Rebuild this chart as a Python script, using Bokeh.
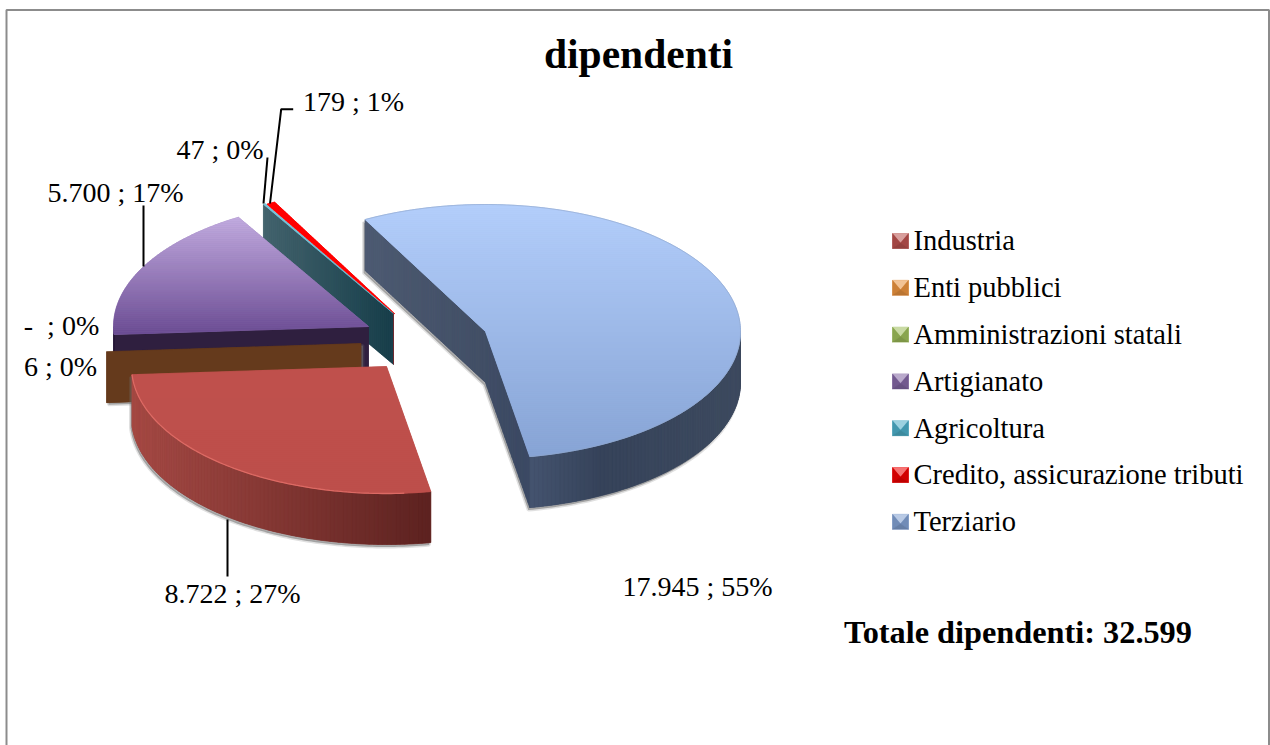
import numpy as np
from bokeh.plotting import figure
from bokeh.models import Range1d, ColumnDataSource
from bokeh.core.properties import value
from bokeh.embed import file_html
from bokeh.resources import INLINE

# ---------- data ----------
categories = ["Industria", "Enti pubblici", "Amministrazioni statali", "Artigianato",
              "Agricoltura", "Credito, assicurazione tributi", "Terziario"]
values = [8722, 6, 0, 5700, 47, 179, 17945]
data_labels = ["8.722 ; 27%", "6 ; 0%", "-\u00a0\u00a0; 0%", "5.700 ; 17%", "47 ; 0%", "179 ; 1%", "17.945 ; 55%"]
title_text = "dipendenti"
total_text = "Totale dipendenti: 32.599"

# ---------- layout (page pixels) ----------
W, H = 1270, 745
RX, RY, DEPTH = 255.0, 127.0, 51.0
FIRST = 170.0
apex = {"Industria": (386, 366), "Enti pubblici": (360.5, 343), "Artigianato": (368, 326),
        "Agricoltura": (393, 313), "Credito, assicurazione tributi": (394.5, 313.5), "Terziario": (485, 331)}
label_pos = [(232, 601), (60, 374), (61, 333), (115, 200), (219.5, 157), (353, 109), (697, 594)]
legend_x, legend_y0, legend_dy = 913, 249, 46.8
legend_cols = ["#b8504d", "#e8923f", "#9cbb59", "#8165a3", "#4bacc6", "#ee0000", "#809fd0"]
SERIF = "Liberation Serif"
FS = 28
LIFT = 0.3  # upward correction of the text baseline, in font sizes

p = figure(width=W, height=H, x_range=Range1d(0, W), y_range=Range1d(H, 0),
           toolbar_location=None, output_backend="svg", x_axis_type=None, y_axis_type=None,
           min_border=0, outline_line_color=None, background_fill_color="white",
           border_fill_color="white")
p.grid.visible = False

total = sum(values)
spans = {}
a = FIRST
for c, v in zip(categories, values):
    d = v / total * 360.0
    spans[c] = (a, a + d)
    a += d


def hex2rgb(h):
    return np.array([int(h[i:i + 2], 16) for i in (1, 3, 5)], float)


def lerp(c1, c2, t):
    t = min(max(t, 0.0), 1.0)
    m = hex2rgb(c1) * (1 - t) + hex2rgb(c2) * t
    return "#%02x%02x%02x" % tuple(int(round(k)) for k in m)


def pt(c, b):
    r = np.radians(b)
    return apex[c][0] + RX * np.sin(r), apex[c][1] - RY * np.cos(r)


def arc(c, b0=None, b1=None):
    s0, s1 = spans[c]
    b0 = s0 if b0 is None else b0
    b1 = s1 if b1 is None else b1
    n = max(2, int(abs(b1 - b0) / 1.0) + 2)
    bs = np.linspace(b0, b1, n)
    return [pt(c, b) for b in bs]


def clip_y(poly, ylo, yhi):
    def clip(pts, inside, ycut):
        out = []
        for i in range(len(pts)):
            p0, p1 = pts[i], pts[(i + 1) % len(pts)]
            i0, i1 = inside(p0), inside(p1)
            if i0:
                out.append(p0)
            if i0 != i1:
                t = (ycut - p0[1]) / (p1[1] - p0[1])
                out.append((p0[0] + t * (p1[0] - p0[0]), ycut))
        return out
    r = clip(poly, lambda q: q[1] >= ylo, ylo)
    if r:
        r = clip(r, lambda q: q[1] <= yhi, yhi)
    return r


pxs, pys, pcs = [], [], []


def add(poly, col):
    if len(poly) >= 3:
        pxs.append([q[0] for q in poly])
        pys.append([q[1] for q in poly])
        pcs.append(col)


def flush(lw=0.5):
    global pxs, pys, pcs
    if pxs:
        p.patches(source=ColumnDataSource(dict(xs=pxs, ys=pys, c=pcs)), xs="xs", ys="ys",
                  fill_color="c", line_color="c", line_width=lw)
    pxs, pys, pcs = [], [], []


def top_gradient(c, top, bottom):
    poly = [apex[c]] + arc(c)
    add(poly, lerp(top, bottom, 0.5))
    ys = [q[1] for q in poly]
    y0, y1 = min(ys), max(ys)
    y = y0
    while y < y1:
        band = clip_y(poly, y, min(y + 2, y1))
        add(band, lerp(top, bottom, (y - y0) / (y1 - y0)))
        y += 2


def down(q):
    return (q[0], q[1] + DEPTH)


def face(q0, q1, col0, col1=None, steps=1):
    col1 = col1 or col0
    add([q0, q1, down(q1), down(q0)], lerp(col0, col1, 0.5))
    for i in range(steps):
        t0, t1 = i / steps, (i + 1) / steps
        a0 = (q0[0] + (q1[0] - q0[0]) * t0, q0[1] + (q1[1] - q0[1]) * t0)
        a1 = (q0[0] + (q1[0] - q0[0]) * t1, q0[1] + (q1[1] - q0[1]) * t1)
        add([a0, a1, down(a1), down(a0)], lerp(col0, col1, t0))


def rim(c, b0, b1, colfun):
    pts = arc(c, b0, b1)
    add(pts + [down(q) for q in pts[::-1]], colfun((pts[0][0] + pts[-1][0]) / 2))
    for q0, q1 in zip(pts[:-1], pts[1:]):
        add([q0, q1, down(q1), down(q0)], colfun((q0[0] + q1[0]) / 2))


def shadow(outline, dx=-1.5, dy=2.5):
    xs = [q[0] + dx for q in outline]
    ys = [q[1] + dy for q in outline]
    p.patch(xs, ys, fill_color="#707070", fill_alpha=0.55, line_color="#707070", line_alpha=0.22, line_width=3)


# ---------- Terziario ----------
c = "Terziario"
s0, s1 = spans[c]
tip = pt(c, s1)
start = pt(c, s0)
RIGHT = s1 - 80  # bearing of the rightmost point of the ellipse (90 degrees, one turn on)
shadow([start, down(start), down(apex[c]), down(tip)] + [down(q) for q in arc(c, s1, RIGHT)] + [apex[c]])
face(start, apex[c], "#4e5b72", "#424f66", steps=60)
face(apex[c], tip, "#414e66", "#3c4a64", steps=25)
rim(c, RIGHT, s1, lambda x: lerp("#44546f", "#36435a", (x - tip[0]) / 70) if x < tip[0] + 70 else lerp("#36435a", "#3e4b60", (x - tip[0] - 70) / 140))
top_gradient(c, "#b3cefb", "#86a3d4")
flush()
p.line([q[0] for q in arc(c)], [q[1] for q in arc(c)], line_color="#8fa6c9", line_width=1, line_alpha=0.55)

# ---------- Agricoltura + Credito ----------
c = "Agricoltura"
q = pt(c, spans[c][0])
face(q, apex[c], "#45656f", "#173e4a", steps=65)
top_gradient(c, "#78c4da", "#6ab4ca")
top_gradient("Credito, assicurazione tributi", "#ff0000", "#ff0000")
flush(0.4)
p.line([apex[c][0], apex[c][0]], [apex[c][1], apex[c][1] + DEPTH], line_color="#6e2a30", line_width=1)

# ---------- Artigianato ----------
c = "Artigianato"
s0, s1 = spans[c]
q = pt(c, s0)
face(q, apex[c], "#2f1f3f")
rim(c, s0, 270, lambda x: "#2f1f3f")
top_gradient(c, "#c2abdf", "#6a4b92")
flush()

# ---------- Enti pubblici ----------
c = "Enti pubblici"
q = pt(c, spans[c][0])
shadow([q, apex[c], down(apex[c]), down(q)], dx=2, dy=2)
face(q, apex[c], "#653a1c")
flush(0.4)

# ---------- Industria ----------
c = "Industria"
s0, s1 = spans[c]
e0, e1 = pt(c, s0), pt(c, s1)
lo = [down(q) for q in arc(c)]
shadow([apex[c], e0] + lo + [e1])
x_l, x_r = e1[0], e0[0]
rim(c, s0, s1, lambda x: lerp("#a64a45", "#5c2220", (x - x_l) / (x_r - x_l)))
top_gradient(c, "#bf504c", "#bd4f4b")
flush()
a_ = arc(c, s0 + 6, s1)
p.line([q[0] for q in a_], [q[1] for q in a_], line_color="#dc6a64", line_width=1.3)

# ---------- leader lines ----------
p.multi_line(xs=[[269.5, 280.7, 292.7], [263, 267], [143, 143], [227, 227]],
             ys=[[203, 108.7, 108.7], [203, 157], [205, 266], [519, 576]],
             line_color="black", line_width=2)

# ---------- labels ----------
p.text(x=[q[0] for q in label_pos], y=[q[1] for q in label_pos], text=data_labels,
       y_offset=-LIFT * FS, text_font=value(SERIF), text_font_size=f"{FS}px", text_align="center",
       text_baseline="alphabetic", text_color="black")
p.text(x=[638], y=[66], text=[title_text], y_offset=-LIFT * 41.5, text_font=value(SERIF), text_font_size="41.5px",
       text_font_style="bold", text_align="center", text_baseline="alphabetic", text_color="black")
p.text(x=[1017.5], y=[641], text=[total_text], y_offset=-LIFT * 32.3, text_font=value(SERIF), text_font_size="32.3px",
       text_font_style="bold", text_align="center", text_baseline="alphabetic", text_color="black")

# ---------- legend ----------
ly = [legend_y0 + i * legend_dy for i in range(len(categories))]
p.text(x=[legend_x] * len(categories), y=ly, text=categories, y_offset=-LIFT * (FS + 0.5), text_font=value(SERIF),
       text_font_size=f"{FS + 0.5}px", text_align="left", text_baseline="alphabetic", text_color="black")
for y, col in zip(ly, legend_cols):
    x0, x1, y0, y1 = 892, 908, y - 16, y - 1
    cx, cy = (x0 + x1) / 2, (y0 + y1) / 2
    add([(x0, y0), (x1, y0), (x1, y1), (x0, y1)], col)
    add([(x0, y0), (x1, y0), (cx, cy + 2)], lerp(col, "#ffffff", 0.45))
    add([(x0, y0), (cx, cy + 2), (x0, y1)], lerp(col, "#000000", 0.12))
    add([(x1, y0), (cx, cy + 2), (x1, y1)], lerp(col, "#000000", 0.12))
    add([(x0, y1), (x1, y1), (cx, cy + 2)], lerp(col, "#000000", 0.2))
flush(0.3)

# ---------- frame ----------
p.line([6, 6, 1268.5, 1268.5], [H, 9.5, 9.5, H], line_color="#8c8c8c", line_width=2)

open("out.html", "w").write(file_html(p, INLINE))
